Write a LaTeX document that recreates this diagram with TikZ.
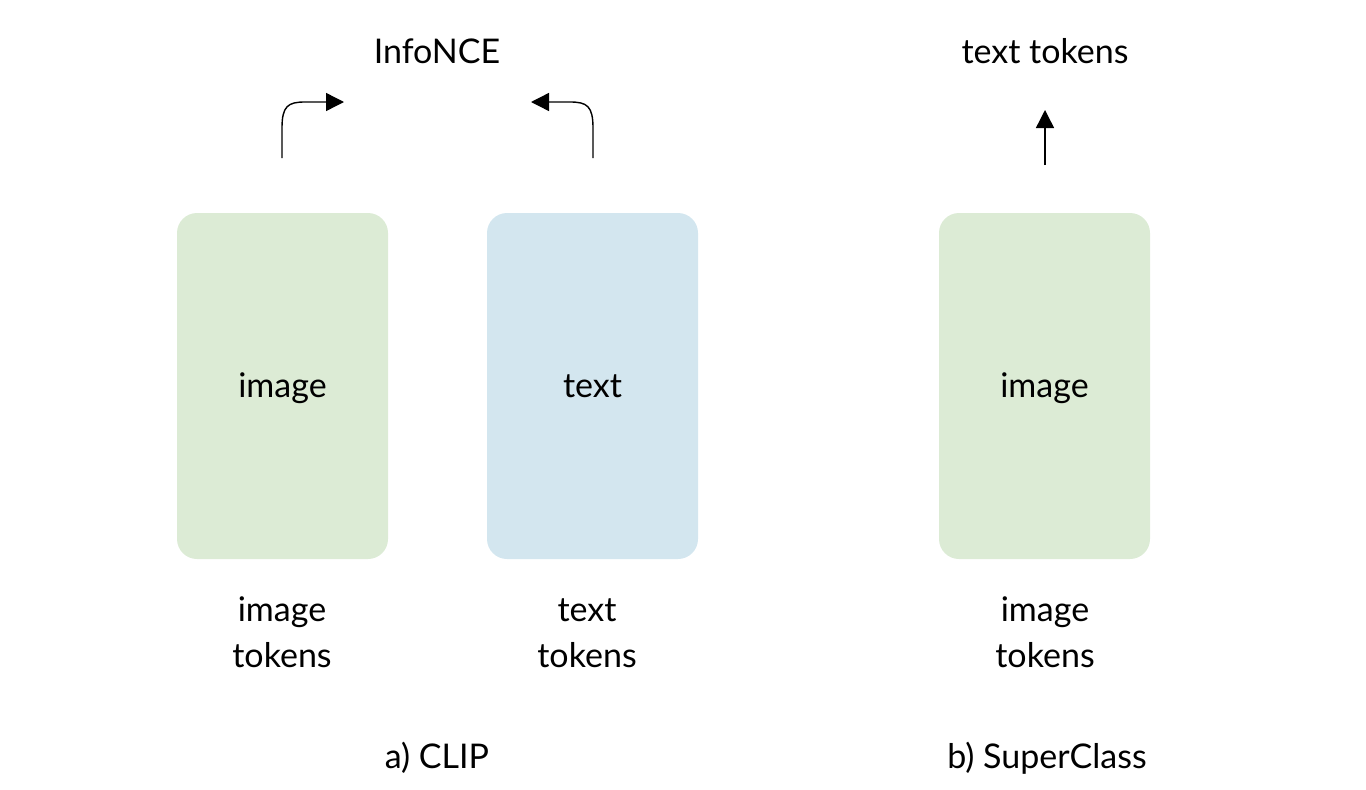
\documentclass[tikz,border=0pt]{standalone}
\usepackage{fontspec}
\setmainfont{Lato}
\usetikzlibrary{arrows.meta}
\definecolor{boxgreen}{HTML}{DCEBD5}
\definecolor{boxblue}{HTML}{D3E6EF}
\begin{document}
\begin{tikzpicture}[x=1pt,y=-1pt,
  enc/.style={rounded corners=20pt, inner sep=0pt, minimum width=211pt, minimum height=346pt, font=\fontsize{34}{40}\selectfont},
  lbl/.style={font=\fontsize{34}{40}\selectfont, inner sep=0pt, anchor=base},
  conn/.style={line width=1.4pt, -{Triangle[length=18pt,width=18pt]}}]
\useasboundingbox (0,0) rectangle (1366,790);
\node[enc, fill=boxgreen] (img1) at (282.5,386) {};
\node[enc, fill=boxblue] (txt1) at (592.5,386) {};
\node[enc, fill=boxgreen] (img2) at (1044.5,386) {};
\node[lbl] (img1t) at (img1.center) [yshift=-11pt] {image};
\node[lbl] (txt1t) at (txt1.center) [yshift=-11pt] {text};
\node[lbl] (img2t) at (img2.center) [yshift=-11pt] {image};
\node[lbl] (infonce) at (437,63) {InfoNCE};
\node[lbl] (tt) at (1045,63) {text tokens};
\node[lbl] (l1a) at (282,621) {image};
\node[lbl] (l1b) at (282,667) {tokens};
\node[lbl] (l2a) at (587,621) {text};
\node[lbl] (l2b) at (587,667) {tokens};
\node[lbl] (l3a) at (1045,621) {image};
\node[lbl] (l3b) at (1045,667) {tokens};
\node[lbl] (capa) at (437,768) {a) CLIP};
\node[lbl] (capb) at (1047,768) {b) SuperClass};
\coordinate (s1) at (282,158);
\coordinate (e1) at (344,102);
\coordinate (s2) at (593,158);
\coordinate (e2) at (531,102);
\coordinate (s3) at (1045,165);
\coordinate (e3) at (1045,110);
\draw[conn] (s1) -- (282,128) .. controls (282,106) and (288,102) .. (305,102) -- (e1);
\draw[conn] (s2) -- (593,128) .. controls (593,106) and (587,102) .. (570,102) -- (e2);
\draw[conn] (s3) -- (e3);
\end{tikzpicture}
\end{document}
